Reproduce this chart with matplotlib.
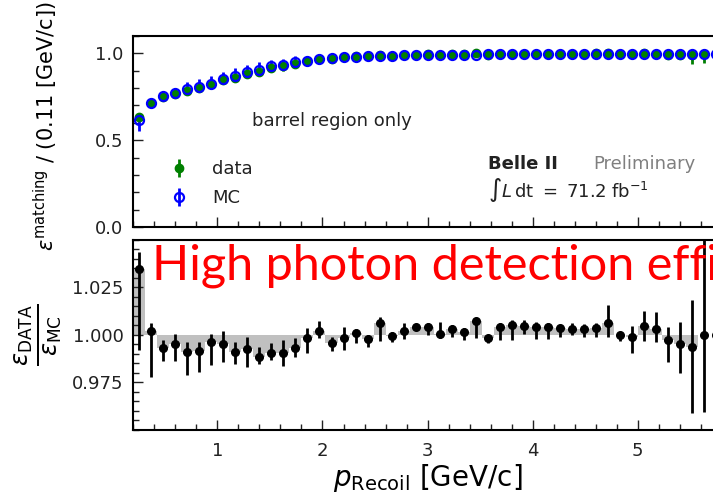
import numpy as np
import matplotlib
matplotlib.use("Agg")
import matplotlib.pyplot as plt
from matplotlib.ticker import MultipleLocator, FixedLocator

# binning in p_Recoil
p_min, p_max, n_bins = 0.2, 5.8, 49
edges = np.linspace(p_min, p_max, n_bins + 1)
centers = 0.5 * (edges[1:] + edges[:-1])
bin_w = edges[1] - edges[0]

eff_mc = [0.615, 0.714, 0.755, 0.770, 0.792, 0.808, 0.826, 0.850, 0.868, 0.890,
          0.906, 0.925, 0.935, 0.948, 0.958, 0.968, 0.974, 0.979, 0.981, 0.984,
          0.985, 0.987, 0.988, 0.989, 0.990, 0.991, 0.992, 0.993, 0.993, 0.994,
          0.994, 0.994, 0.994, 0.995, 0.995, 0.995, 0.995, 0.995, 0.996, 0.996,
          0.996, 0.996, 0.996, 0.996, 0.996, 0.996, 0.995, 0.998, 0.998]
mc_lo = [0.060, 0.020, 0.015, 0.015, 0.012, 0.012, 0.012, 0.012, 0.012, 0.012,
         0.012, 0.010, 0.010, 0.010, 0.010, 0.008, 0.008, 0.008, 0.008, 0.008,
         0.008, 0.008, 0.008, 0.008, 0.008, 0.008, 0.008, 0.008, 0.008, 0.008,
         0.008, 0.008, 0.008, 0.008, 0.008, 0.008, 0.008, 0.008, 0.008, 0.008,
         0.008, 0.008, 0.008, 0.008, 0.008, 0.008, 0.010, 0.010, 0.010]
mc_hi = [0.040, 0.030, 0.025, 0.030, 0.045, 0.045, 0.045, 0.045, 0.045, 0.045,
         0.045, 0.035, 0.035, 0.035, 0.025, 0.025, 0.025, 0.012, 0.012, 0.012,
         0.012, 0.012, 0.012, 0.012, 0.012, 0.012, 0.012, 0.012, 0.012, 0.012,
         0.012, 0.012, 0.012, 0.012, 0.012, 0.012, 0.012, 0.012, 0.012, 0.012,
         0.012, 0.012, 0.012, 0.012, 0.012, 0.012, 0.012, 0.020, 0.020]

eff_data = [0.636, 0.716, 0.750, 0.766, 0.785, 0.801, 0.823, 0.846, 0.860, 0.884,
            0.895, 0.916, 0.926, 0.941, 0.956, 0.970, 0.970, 0.978, 0.982, 0.982,
            0.991, 0.986, 0.990, 0.993, 0.994, 0.991, 0.995, 0.995, 1.000, 0.992,
            0.998, 0.999, 0.999, 0.999, 0.999, 0.999, 0.999, 0.999, 1.000, 1.002,
            0.996, 0.995, 1.001, 0.999, 0.993, 0.991, 0.989, 0.998, 0.998]
data_lo = [0.010, 0.020, 0.025, 0.025, 0.025, 0.025, 0.025, 0.025, 0.025, 0.025,
           0.025, 0.025, 0.025, 0.025, 0.020, 0.020, 0.020, 0.015, 0.015, 0.015,
           0.015, 0.015, 0.015, 0.015, 0.015, 0.015, 0.015, 0.015, 0.015, 0.015,
           0.015, 0.015, 0.015, 0.015, 0.015, 0.015, 0.015, 0.015, 0.015, 0.015,
           0.015, 0.015, 0.015, 0.015, 0.015, 0.015, 0.050, 0.055, 0.030]
data_hi = [0.010, 0.010, 0.010, 0.010, 0.010, 0.010, 0.010, 0.010, 0.010, 0.010,
           0.010, 0.010, 0.010, 0.010, 0.010, 0.010, 0.010, 0.008, 0.008, 0.008,
           0.008, 0.008, 0.008, 0.008, 0.008, 0.008, 0.008, 0.008, 0.008, 0.008,
           0.008, 0.008, 0.008, 0.008, 0.008, 0.008, 0.008, 0.008, 0.008, 0.008,
           0.008, 0.008, 0.008, 0.008, 0.008, 0.008, 0.010, 0.010, 0.010]

ratio = [1.0346, 1.0023, 0.9930, 0.9954, 0.9912, 0.9916, 0.9963, 0.9950, 0.9909, 0.9928,
         0.9883, 0.9904, 0.9907, 0.9930, 0.9984, 1.0023, 0.9956, 0.9986, 1.0009, 0.9977,
         1.0065, 0.9993, 1.0021, 1.0044, 1.0040, 1.0005, 1.0030, 1.0017, 1.0074, 0.9983,
         1.0040, 1.0053, 1.0047, 1.0044, 1.0040, 1.0035, 1.0030, 1.0030, 1.0038, 1.0061,
         1.0000, 0.9991, 1.0047, 1.0030, 0.9974, 0.9953, 0.9939, 1.0000, 1.0000]
ratio_low = [0.9921, 0.9777, 0.9863, 0.9865, 0.9790, 0.9807, 0.9842, 0.9856, 0.9846, 0.9830,
             0.9847, 0.9868, 0.9837, 0.9883, 0.9904, 0.9983, 0.9916, 0.9921, 0.9956, 0.9939,
             0.9970, 0.9962, 0.9977, 1.0026, 1.0000, 0.9983, 0.9991, 0.9974, 0.9983, 0.9956,
             0.9974, 0.9974, 1.0005, 0.9977, 0.9977, 0.9988, 1.0000, 0.9988, 0.9988, 0.9991,
             0.9970, 0.9907, 0.9970, 0.9965, 0.9860, 0.9798, 0.9588, 0.9596, 0.9700]
ratio_high = [1.0438, 1.0065, 0.9974, 1.0004, 0.9965, 0.9965, 1.0005, 1.0021, 0.9963, 0.9988,
              0.9935, 0.9956, 0.9974, 0.9982, 1.0035, 1.0075, 0.9991, 1.0044, 1.0032, 1.0000,
              1.0096, 1.0017, 1.0065, 1.0056, 1.0065, 1.0070, 1.0053, 1.0035, 1.0084, 1.0000,
              1.0061, 1.0079, 1.0079, 1.0070, 1.0061, 1.0053, 1.0061, 1.0058, 1.0065, 1.0158,
              1.0017, 1.0047, 1.0128, 1.0123, 1.0040, 1.0070, 1.0184, 1.0600, 1.0300]
ratio_ticks = [0.975, 1.000, 1.025]

txt = "#222222"
plt.rcParams.update({
    "font.size": 13,
    "axes.linewidth": 1.5,
    "text.color": txt,
    "xtick.color": txt,
    "ytick.color": txt,
    "xtick.labelcolor": txt,
    "ytick.labelcolor": txt,
})

fig = plt.figure(figsize=(7.13, 4.94), dpi=100)
ax1 = fig.add_axes([0.187, 0.5405, 0.8254, 0.3866])
ax2 = fig.add_axes([0.187, 0.1296, 0.8254, 0.3846], sharex=ax1)

ax1.errorbar(centers, eff_data, yerr=[data_lo, data_hi], fmt="o", color="green",
             ms=6, elinewidth=2, capsize=0, label="data")
ax1.errorbar(centers, eff_mc, yerr=[mc_lo, mc_hi], fmt="o", color="blue", mfc="none",
             mew=1.6, ms=6.5, elinewidth=2, capsize=0, label="MC")
ax1.set_ylim(0, 1.1)
ax1.set_xlim(p_min, p_max)
ax1.yaxis.set_major_locator(MultipleLocator(0.5))
ax1.yaxis.set_minor_locator(MultipleLocator(0.1))
ax1.tick_params(labelbottom=False)
ax1.set_ylabel(r"$\varepsilon^{\mathrm{matching}}$ / (0.11 [GeV/c])", fontsize=15)
ax1.yaxis.set_label_coords(-0.125, 0.53)
ax1.legend(loc="upper left", bbox_to_anchor=(0.02, 0.435), frameon=False, fontsize=13,
           handletextpad=0.8, labelspacing=0.62)

ax1.text(1.327, 0.579, "barrel region only", fontsize=13, va="baseline")
ax1.text(3.573, 0.335, "Belle II", fontsize=13, fontweight="bold", va="baseline")
ax1.text(4.578, 0.335, "Preliminary", fontsize=13, color="#7f7f7f", va="baseline")
ax1.text(3.573, 0.175, r"$\int L\,\mathrm{dt}\ =\ 71.2\ \mathrm{fb}^{-1}$", fontsize=13,
         va="baseline")

ax2.bar(centers, np.array(ratio) - 1, bottom=1, width=bin_w, color="#c0c0c0", lw=0)
yerr_r = [np.array(ratio) - np.array(ratio_low), np.array(ratio_high) - np.array(ratio)]
ax2.errorbar(centers, ratio, yerr=yerr_r, fmt="o", color="black", ms=5.5,
             elinewidth=2, capsize=0)
ax2.set_ylim(0.95, 1.05)
ax2.yaxis.set_major_locator(FixedLocator(ratio_ticks))
ax2.yaxis.set_minor_locator(MultipleLocator(0.005))
ax2.xaxis.set_major_locator(MultipleLocator(1))
ax2.xaxis.set_minor_locator(MultipleLocator(0.2))
ax2.set_ylabel(r"$\frac{\varepsilon_{\mathrm{DATA}}}{\varepsilon_{\mathrm{MC}}}$", fontsize=25)
ax2.yaxis.set_label_coords(-0.12, 0.5)
ax2.set_xlabel(r"$p_{\mathrm{Recoil}}$ [GeV/c]", fontsize=20, labelpad=1)

for ax in (ax1, ax2):
    ax.tick_params(which="both", direction="in", top=False, right=False)
    ax.tick_params(which="major", length=7, width=1)
    ax.tick_params(which="minor", length=4, width=1)
    ax.tick_params(axis="y", pad=7)
    ax.tick_params(axis="x", pad=9)

fig.text(152 / 713, 214 / 494, "High photon detection efficiency", color="red",
         fontsize=35, family="Lato", va="baseline")

fig.savefig("out.png", dpi=100)
